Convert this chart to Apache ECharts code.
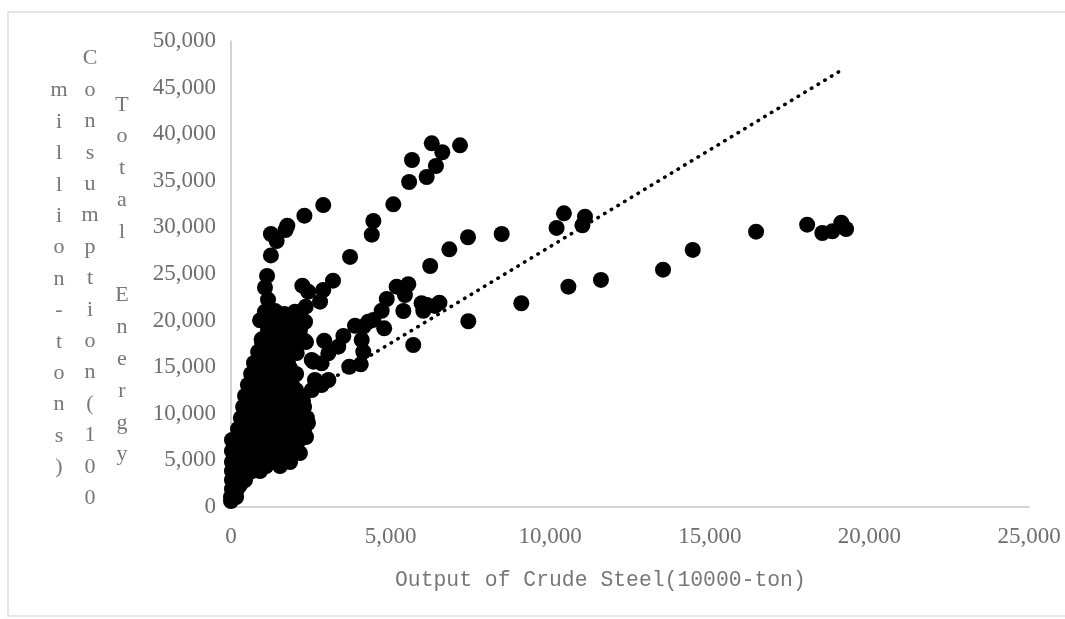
<!DOCTYPE html>
<html>
<head>
<meta charset="utf-8">
<style>html,body{margin:0;padding:0;background:#fff}#c{width:1065px;height:619px}</style>
<script src="https://cdn.jsdelivr.net/npm/echarts@6/dist/echarts.min.js"></script>
</head>
<body>
<div id="c"></div>
<script>
const xAxisTitle = "Output of Crude Steel(10000-ton)";
const yTitleColumns = ["million-tons)", "Consumption(100", "Total Energy"];
const xTicks = [0, 5000, 10000, 15000, 20000, 25000];
const yTicks = [0, 5000, 10000, 15000, 20000, 25000, 30000, 35000, 40000, 45000, 50000];
const trendLine = [[0, 7200], [19080, 46780]];

const upperBranch = [[6290,39020],[6620,38060],[7175,38810],[5670,37230],[6420,36590],[6130,35410],[5580,34870],[5085,32480],[4460,30690],[4410,29220],[3730,26830],[2890,32400],[2300,31260],[1765,30180],[1710,29720],[1250,29290],[1430,28540],[1250,26990],[1130,24790],[1065,23550],[1160,22260],[1065,20960],[910,20030]];
const middleBranch = [[10430,31510],[11090,31150],[11010,30230],[10200,29940],[8480,29290],[7425,28940],[6840,27650],[6240,25860],[5555,23900],[5190,23640],[5450,22750],[4880,22320],[4720,21060],[5400,21030],[5970,21860],[6140,21670],[6025,21060],[6530,21920],[6390,21570],[4460,20070],[4300,19880],[4800,19170],[3885,19450],[4145,19350],[4095,17920],[4145,16660],[4065,15310],[3705,15050],[3520,18350],[3360,17200],[3050,16490],[2920,17840],[2580,15590],[2840,15420],[3050,13630],[2630,13630],[2840,13090],[2530,12550]];
const lowerBranch = [[14465,27580],[13535,25460],[11590,24360],[10570,23640],[9095,21860],[7435,19930],[5710,17380],[16450,29540],[18050,30290],[18525,29400],[18840,29580],[19120,30510],[19270,29830]];
const upperArm = [[2235,23750],[2420,23100],[3195,24280],[2890,23280],[2790,22030],[2340,21490],[2005,20960],[1670,20710],[2320,19880],[2300,17840],[960,17990],[1380,19850],[1850,18990],[1380,17920],[1850,17380],[2160,18990],[2530,15770],[2060,16520],[1160,18990],[1535,19530],[1910,20060],[1380,21030]];
const denseCluster = [
[1220,18780],[1660,18780],[2040,18780],[970,17700],[1350,17700],[1720,17700],[2100,17700],[2350,17700],
[850,16630],[1220,16630],[1565,16630],[1910,16630],
[720,15450],[1100,15450],[1440,15450],[1785,15450],
[630,14270],[970,14270],[1320,14270],[1660,14270],[2040,14270],
[530,13090],[880,13090],[1220,13090],[1565,13090],[1910,13090],
[440,11910],[780,11910],[1130,11910],[1470,11910],[1820,11910],[2130,11910],
[380,10730],[720,10730],[1065,10730],[1410,10730],[1755,10730],[2100,10730],[2290,10730],
[310,9550],[660,9550],[1000,9550],[1350,9550],[1690,9550],[2040,9550],[2380,9550],
[220,8370],[560,8370],[910,8370],[1250,8370],[1600,8370],[1940,8370],[2290,8370],
[30,7190],[410,7190],[750,7190],[1100,7190],[1440,7190],[1785,7190],[2130,7190],
[30,6010],[310,6010],[660,6010],[1000,6010],[1350,6010],[1690,6010],[2040,6010],
[30,4830],[340,4830],[690,4830],[1030,4830],[1380,4830],[1690,5200],
[30,3860],[310,3860],[660,3860],[910,3860],
[30,2900],[280,2900],[440,2900],
[30,1930],[190,1930],
[0,1070],[160,1070],[0,640]
];
const denseFill = [
[1100,17170],[1535,17170],[1910,17170],
[1030,16100],[1410,16100],[1755,16100],
[815,14910],[1160,14910],[1500,14910],[1850,14910],
[750,13730],[1100,13730],[1440,13730],[1785,13730],
[690,12550],[1030,12550],[1380,12550],[1720,12550],[2040,12550],
[600,11370],[940,11370],[1280,11370],[1630,11370],[1975,11370],[2255,11370],
[530,10190],[880,10190],[1220,10190],[1565,10190],[1910,10190],[2255,10190],
[470,9010],[815,9010],[1160,9010],[1500,9010],[1850,9010],[2190,9010],[2410,9010],
[340,7830],[720,7830],[1065,7830],[1410,7830],[1755,7830],[2100,7830],[2350,7510],
[220,6650],[560,6650],[910,6650],[1250,6650],[1600,6650],[1940,6650],
[190,5470],[530,5470],[880,5470],[1220,5470],[1535,5470],[1785,5470],[2160,5790],
[190,4400],[500,4400],[850,4400],[1100,4400],[1535,4400],[1850,4830],
[160,3330],[470,3330],
[160,2360],[280,2360]
];

const allPoints = [].concat(denseCluster, denseFill, upperArm, upperBranch, middleBranch, lowerBranch);
const textColor = "#6e6e6e";

const columnTitles = yTitleColumns.map((t, i) => ({
  text: t.split("").join("\n"),
  left: [59, 90, 122][i],
  top: [75, 43, 89][i],
  textAlign: "center",
  padding: 0,
  textStyle: { fontFamily: "Liberation Serif", fontSize: 22, lineHeight: [31.4, 31.4, 31.8][i], fontWeight: "normal", color: "#777", align: "center" }
}));

const chart = echarts.init(document.getElementById("c"), null, { renderer: "canvas" });
chart.setOption({
  animation: false,
  backgroundColor: "#fff",
  grid: { left: 231, right: 36, top: 41, bottom: 112 },
  title: columnTitles.concat([{
    text: xAxisTitle, left: 395, top: 570, padding: 0,
    textStyle: { fontFamily: "Liberation Mono", fontSize: 21.4, fontWeight: "normal", color: "#777" }
  }]),
  graphic: [{ type: "rect", silent: true, z: -10,
    shape: { x: 8, y: 12, width: 1100, height: 604 },
    style: { fill: "none", stroke: "#e6e6e6", lineWidth: 2 } }],
  xAxis: { type: "value", min: xTicks[0], max: xTicks[xTicks.length - 1], interval: xTicks[1] - xTicks[0],
    splitLine: { show: false }, axisTick: { show: false },
    axisLine: { lineStyle: { color: "#c4c4c4", width: 1.5 } },
    axisLabel: { margin: 18, fontFamily: "Liberation Serif", fontSize: 23, color: textColor, hideOverlap: false, showMinLabel: true, showMaxLabel: true } },
  yAxis: { type: "value", min: yTicks[0], max: yTicks[yTicks.length - 1], interval: yTicks[1] - yTicks[0],
    splitLine: { show: false }, axisTick: { show: false },
    axisLine: { show: true, lineStyle: { color: "#c4c4c4", width: 1.5 } },
    axisLabel: { margin: 15, fontFamily: "Liberation Serif", fontSize: 23, color: textColor, verticalAlignMaxLabel: "middle", verticalAlignMinLabel: "middle", showMinLabel: true, showMaxLabel: true } },
  series: [
    { type: "scatter", data: allPoints, symbol: "circle", symbolSize: 16, clip: false,
      itemStyle: { color: "#000", opacity: 1 } },
    { type: "line", data: trendLine, showSymbol: false, symbol: "none", clip: false, z: 3,
      lineStyle: { color: "#000", width: 3.5, type: [0.5, 7.3], cap: "round" } }
  ]
});
</script>
</body>
</html>
